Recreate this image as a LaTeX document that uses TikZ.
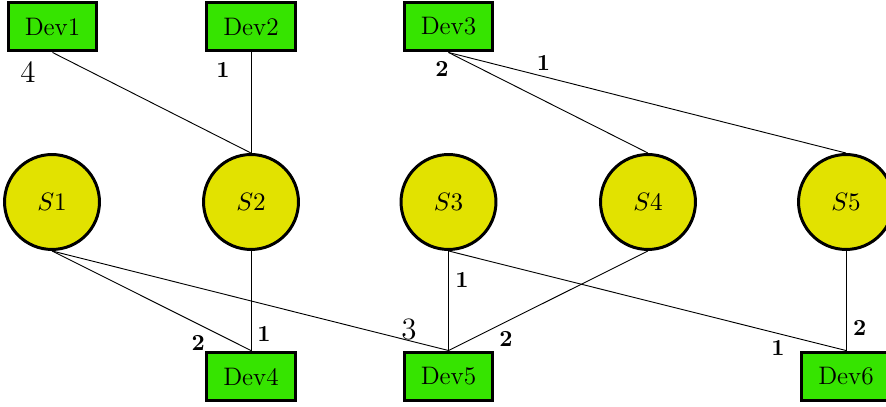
\documentclass[tikz,border=0pt]{standalone}
\definecolor{devgreen}{RGB}{54,228,0}
\definecolor{swyellow}{RGB}{226,226,0}
\begin{document}
\begin{tikzpicture}[x=0.435pt,y=-0.435pt,
  dev/.style={draw=black,line width=1.3pt,fill=devgreen,rectangle,minimum width=38.7pt,minimum height=21.3pt,inner sep=0pt,font=\fontsize{11}{13}\selectfont},
  sw/.style={draw=black,line width=1.3pt,fill=swyellow,circle,minimum size=41.3pt,inner sep=0pt,font=\fontsize{11}{13}\selectfont},
  link/.style={draw=black,line width=0.4pt},
  pl/.style={font=\fontsize{10}{12}\selectfont\bfseries,inner sep=0pt},
  bl/.style={font=\fontsize{13.5}{15}\selectfont,inner sep=0pt}]
\useasboundingbox (0,0) rectangle (886,407);
\node[dev] (d1) at (52.5,26.5) {Dev1};
\node[dev] (d2) at (251,26.5) {Dev2};
\node[dev] (d3) at (448.5,26.5) {Dev3};
\node[sw] (s1) at (52,202) {$S1$};
\node[sw] (s2) at (251,202) {$S2$};
\node[sw] (s3) at (448.5,202) {$S3$};
\node[sw] (s4) at (648,202) {$S4$};
\node[sw] (s5) at (846,202) {$S5$};
\node[dev] (d4) at (251,376.5) {Dev4};
\node[dev] (d5) at (448.5,376.5) {Dev5};
\node[dev] (d6) at (846,376.5) {Dev6};
\draw[link] (d1.south) -- (s2.north);
\draw[link] (d2.south) -- (s2.north);
\draw[link] (d3.south) -- (s4.north);
\draw[link] (d3.south) -- (s5.north);
\draw[link] (s1.south) -- (d4.north);
\draw[link] (s1.south) -- (d5.north);
\draw[link] (s2.south) -- (d4.north);
\draw[link] (s3.south) -- (d5.north);
\draw[link] (s3.south) -- (d6.north);
\draw[link] (s4.south) -- (d5.north);
\draw[link] (s5.south) -- (d6.north);
\node[bl] (l1) at (28,72) {4};
\node[pl] (l2) at (223,69.5) {1};
\node[pl] (l3) at (442,69) {2};
\node[pl] (l4) at (543.5,63) {1};
\node[pl] (l5) at (198.3,342.5) {2};
\node[pl] (l6) at (264,334) {1};
\node[bl] (l7) at (409,330) {3};
\node[pl] (l8) at (506,338.7) {2};
\node[pl] (l9) at (462,280) {1};
\node[pl] (l10) at (778,347.5) {1};
\node[pl] (l11) at (859.7,328) {2};
\end{tikzpicture}
\end{document}
